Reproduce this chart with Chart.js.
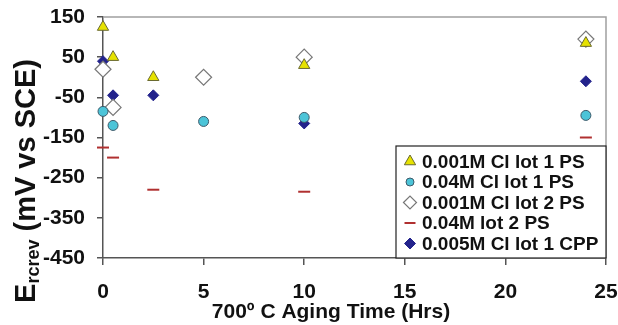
<!DOCTYPE html>
<html>
<head>
<meta charset="utf-8">
<script src="https://cdn.jsdelivr.net/npm/chart.js@4/dist/chart.umd.min.js"></script>
<style>
  html, body { margin: 0; padding: 0; background: #ffffff; }
  #wrap { width: 618px; height: 325px; }
</style>
</head>
<body>
<div id="wrap"><canvas id="c" width="618" height="325"></canvas></div>
<script>
// ---- data ----
const seriesLabels = [
  "0.001M Cl lot 1 PS",
  "0.04M Cl lot 1 PS",
  "0.001M Cl lot 2 PS",
  "0.04M lot 2 PS",
  "0.005M Cl lot 1 CPP"
];
const hoursA = [0, 0.5, 2.5, 10, 24];
const hoursB = [0, 0.5, 5, 10, 24];
const cl001Lot1PS = [125, 50, 0, 30, 85];
const cl04Lot1PS = [-85, -120, -110, -100, -95];
const cl001Lot2PS = [20, -75, 0, 50, 95];
const m04Lot2PS = [-175, -200, -280, -285, -150];
const cl005Lot1CPP = [40, -45, -45, -115, -10];
const xTicks = [0, 5, 10, 15, 20, 25];
const yTicks = [150, 50, -50, -150, -250, -350, -450];
const xTitle = "700\u00BA C Aging Time (Hrs)";
const yTitleMain = "E";
const yTitleSub = "rcrev";
const yTitleRest = " (mV vs SCE)";

function pts(xs, ys) { return xs.map((x, i) => ({ x: x, y: ys[i] })); }

const FONT = "'Liberation Sans', Arial, sans-serif";

const datasets = [
  { label: seriesLabels[0], data: pts(hoursA, cl001Lot1PS), pointStyle: 'triangle', pointRadius: 6.5,
    backgroundColor: '#e6e200', borderColor: '#6a6a30', borderWidth: 1, legendRadius: 6.5 },
  { label: seriesLabels[1], data: pts(hoursB, cl04Lot1PS), pointStyle: 'circle', pointRadius: 5,
    backgroundColor: '#4cc4d8', borderColor: '#3d5a6a', borderWidth: 1, legendRadius: 4 },
  { label: seriesLabels[2], data: pts(hoursB, cl001Lot2PS), pointStyle: 'rectRot', pointRadius: 8,
    backgroundColor: '#ffffff', borderColor: '#777777', borderWidth: 1.2, legendRadius: 6.5 },
  { label: seriesLabels[3], data: pts(hoursA, m04Lot2PS), pointStyle: 'line', pointRadius: 6,
    backgroundColor: '#b03030', borderColor: '#b03030', borderWidth: 2, legendRadius: 5.5 },
  { label: seriesLabels[4], data: pts(hoursA, cl005Lot1CPP), pointStyle: 'rectRot', pointRadius: 5.5,
    backgroundColor: '#23238c', borderColor: '#23238c', borderWidth: 1, legendRadius: 5.5 }
];
datasets.forEach(d => { d.showLine = false; d.clip = false; d.pointHoverRadius = d.pointRadius; });

const frameAndTitles = {
  id: 'frameAndTitles',
  afterDatasetsDraw(chart) {
    const ctx = chart.ctx;
    const a = chart.chartArea;
    ctx.save();
    // top & right frame lines
    ctx.strokeStyle = '#a0a0a0';
    ctx.lineWidth = 1.5;
    ctx.beginPath();
    ctx.moveTo(a.left, a.top); ctx.lineTo(a.right, a.top); ctx.lineTo(a.right, a.bottom);
    ctx.stroke();

    // legend box
    const lx = 396, ly = 146, lw = a.right - 396, lh = a.bottom - 146;
    ctx.fillStyle = '#ffffff';
    ctx.fillRect(lx, ly, lw, lh);
    ctx.strokeStyle = '#222222';
    ctx.lineWidth = 1.2;
    ctx.strokeRect(lx, ly, lw, lh);
    const rowY = [161.5, 182, 202.5, 223, 243.5];
    chart.data.datasets.forEach((d, i) => {
      ctx.fillStyle = d.backgroundColor;
      ctx.strokeStyle = d.borderColor;
      ctx.lineWidth = d.borderWidth;
      Chart.helpers.drawPoint(ctx, { pointStyle: d.pointStyle, radius: d.legendRadius, borderWidth: d.borderWidth, rotation: 0 }, 410, rowY[i]);
      ctx.fillStyle = '#111111';
      ctx.font = 'bold 19px ' + FONT;
      ctx.textBaseline = 'middle';
      ctx.textAlign = 'left';
      ctx.fillText(d.label, 422, rowY[i] + 1);
    });

    // x axis title
    ctx.fillStyle = '#111111';
    ctx.font = 'bold 21px ' + FONT;
    ctx.textAlign = 'center';
    ctx.textBaseline = 'alphabetic';
    ctx.fillText(xTitle, 331, 318);

    // y axis title with subscript, rotated
    ctx.translate(24, 181);
    ctx.rotate(-Math.PI / 2);
    const fMain = 'bold 29px ' + FONT, fSub = 'bold 18px ' + FONT;
    ctx.font = fMain; const w1 = ctx.measureText(yTitleMain).width;
    const w3 = ctx.measureText(yTitleRest).width;
    ctx.font = fSub; const w2 = ctx.measureText(yTitleSub).width;
    let x0 = -(w1 + w2 + w3) / 2;
    ctx.textAlign = 'left';
    ctx.font = fMain; ctx.fillText(yTitleMain, x0, 11);
    ctx.font = fSub; ctx.fillText(yTitleSub, x0 + w1, 15);
    ctx.font = fMain; ctx.fillText(yTitleRest, x0 + w1 + w2, 11);
    ctx.restore();
  }
};

function noPad(s) { s.paddingTop = 0; s.paddingBottom = 0; s.paddingLeft = 0; s.paddingRight = 0; }

new Chart(document.getElementById('c'), {
  type: 'scatter',
  data: { datasets: datasets },
  plugins: [frameAndTitles],
  options: {
    responsive: false,
    animation: false,
    devicePixelRatio: 1,
    layout: { padding: { top: 17, right: 12, left: 0, bottom: 0 } },
    plugins: { legend: { display: false }, tooltip: { enabled: false } },
    scales: {
      x: {
        type: 'linear', min: 0, max: 25,
        afterFit(s) { s.height = 67; noPad(s); },
        afterBuildTicks(s) { s.ticks = xTicks.map(v => ({ value: v })); },
        grid: { drawOnChartArea: false, drawTicks: true, tickLength: 7, color: '#555555', lineWidth: 1.5 },
        border: { display: true, color: '#555555', width: 1.5 },
        ticks: { color: '#111111', padding: 15, maxRotation: 0, font: { family: FONT, size: 21, weight: 'bold' } }
      },
      y: {
        type: 'linear', min: -450, max: 150,
        afterFit(s) { s.width = 103; noPad(s); },
        afterBuildTicks(s) { s.ticks = yTicks.map(v => ({ value: v })); },
        grid: { drawOnChartArea: false, drawTicks: true, tickLength: 6, color: '#555555', lineWidth: 1.5 },
        border: { display: true, color: '#555555', width: 1.5 },
        ticks: { color: '#111111', padding: 12, font: { family: FONT, size: 21, weight: 'bold' } }
      }
    }
  }
});
</script>
</body>
</html>
